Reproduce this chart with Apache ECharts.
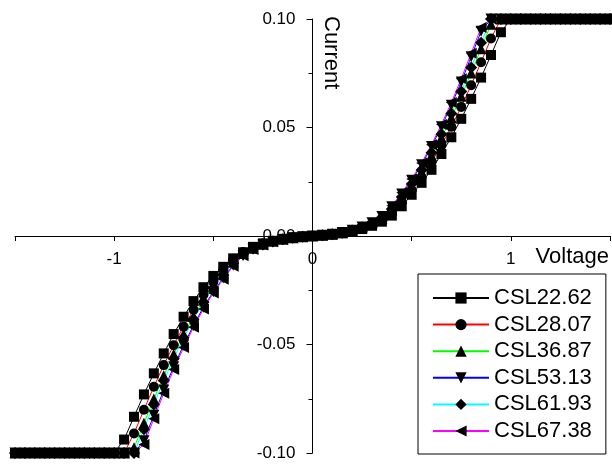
<!DOCTYPE html>
<html>
<head>
<meta charset="utf-8">
<script src="https://cdn.jsdelivr.net/npm/echarts@6/dist/echarts.min.js"></script>
<style>
html,body{margin:0;padding:0;background:#fff;}
#chart{width:612px;height:466px;}
</style>
</head>
<body>
<div id="chart"></div>
<script>
const voltage = [-1.5,-1.45,-1.4,-1.35,-1.3,-1.25,-1.2,-1.15,-1.1,-1.05,-1,-0.95,-0.9,-0.85,-0.8,-0.75,-0.7,-0.65,-0.6,-0.55,-0.5,-0.45,-0.4,-0.35,-0.3,-0.25,-0.2,-0.15,-0.1,-0.05,0,0.05,0.1,0.15,0.2,0.25,0.3,0.35,0.4,0.45,0.5,0.55,0.6,0.65,0.7,0.75,0.8,0.85,0.9,0.95,1,1.05,1.1,1.15,1.2,1.25,1.3,1.35,1.4,1.45,1.5];

const csl2262 = [-0.1,-0.1,-0.1,-0.1,-0.1,-0.1,-0.1,-0.1,-0.1,-0.1,-0.1,-0.0938,-0.0833,-0.0730,-0.0633,-0.0541,-0.0452,-0.0372,-0.0300,-0.0236,-0.0184,-0.0142,-0.0103,-0.0075,-0.0050,-0.0034,-0.0022,-0.0013,-0.0007,-0.0003,0,0.0003,0.0007,0.0013,0.0021,0.0032,0.0047,0.0066,0.0094,0.0137,0.0190,0.0245,0.0305,0.0378,0.0455,0.0540,0.0632,0.0730,0.0834,0.0939,0.1,0.1,0.1,0.1,0.1,0.1,0.1,0.1,0.1,0.1,0.1];

const csl2807 = [-0.1,-0.1,-0.1,-0.1,-0.1,-0.1,-0.1,-0.1,-0.1,-0.1,-0.1,-0.1,-0.0910,-0.0801,-0.0695,-0.0595,-0.0503,-0.0418,-0.0340,-0.0271,-0.0212,-0.0156,-0.0108,-0.0074,-0.0052,-0.0035,-0.0023,-0.0014,-0.0008,-0.0003,0,0.0003,0.0008,0.0014,0.0023,0.0035,0.0052,0.0074,0.0108,0.0156,0.0212,0.0271,0.0340,0.0418,0.0503,0.0595,0.0695,0.0801,0.0910,0.1,0.1,0.1,0.1,0.1,0.1,0.1,0.1,0.1,0.1,0.1,0.1];

const csl3687 = [-0.1,-0.1,-0.1,-0.1,-0.1,-0.1,-0.1,-0.1,-0.1,-0.1,-0.1,-0.1,-0.0976,-0.0863,-0.0751,-0.0644,-0.0545,-0.0453,-0.0371,-0.0295,-0.0231,-0.0173,-0.0120,-0.0081,-0.0056,-0.0038,-0.0024,-0.0015,-0.0008,-0.0003,0,0.0003,0.0008,0.0015,0.0024,0.0038,0.0056,0.0081,0.0120,0.0173,0.0231,0.0295,0.0371,0.0453,0.0545,0.0644,0.0751,0.0863,0.0976,0.1,0.1,0.1,0.1,0.1,0.1,0.1,0.1,0.1,0.1,0.1,0.1];

const csl5313 = [-0.1,-0.1,-0.1,-0.1,-0.1,-0.1,-0.1,-0.1,-0.1,-0.1,-0.1,-0.1,-0.1,-0.0943,-0.0826,-0.0710,-0.0603,-0.0503,-0.0412,-0.0328,-0.0257,-0.0194,-0.0135,-0.0090,-0.0061,-0.0041,-0.0026,-0.0016,-0.0008,-0.0003,0,0.0003,0.0008,0.0016,0.0026,0.0041,0.0061,0.0090,0.0135,0.0194,0.0257,0.0328,0.0412,0.0503,0.0603,0.0710,0.0826,0.0943,0.1,0.1,0.1,0.1,0.1,0.1,0.1,0.1,0.1,0.1,0.1,0.1,0.1];

const csl6193 = [-0.1,-0.1,-0.1,-0.1,-0.1,-0.1,-0.1,-0.1,-0.1,-0.1,-0.1,-0.1,-0.1,-0.0890,-0.0776,-0.0666,-0.0564,-0.0469,-0.0384,-0.0304,-0.0240,-0.0180,-0.0125,-0.0084,-0.0057,-0.0039,-0.0025,-0.0015,-0.0008,-0.0003,0,0.0003,0.0008,0.0015,0.0025,0.0039,0.0057,0.0084,0.0125,0.0180,0.0240,0.0304,0.0384,0.0469,0.0564,0.0666,0.0776,0.0890,0.1,0.1,0.1,0.1,0.1,0.1,0.1,0.1,0.1,0.1,0.1,0.1,0.1];

const csl6738 = [-0.1,-0.1,-0.1,-0.1,-0.1,-0.1,-0.1,-0.1,-0.1,-0.1,-0.1,-0.1,-0.1,-0.0961,-0.0842,-0.0725,-0.0615,-0.0514,-0.0421,-0.0336,-0.0263,-0.0199,-0.0139,-0.0091,-0.0062,-0.0042,-0.0027,-0.0016,-0.0009,-0.0003,0,0.0003,0.0009,0.0016,0.0027,0.0042,0.0062,0.0091,0.0139,0.0199,0.0263,0.0336,0.0421,0.0514,0.0615,0.0725,0.0842,0.0961,0.1,0.1,0.1,0.1,0.1,0.1,0.1,0.1,0.1,0.1,0.1,0.1,0.1];

const seriesNames = ['CSL22.62','CSL28.07','CSL36.87','CSL53.13','CSL61.93','CSL67.38'];
const seriesValues = [csl2262, csl2807, csl3687, csl5313, csl6193, csl6738];
const lineColors = ['#000000','#ff0000','#00ff00','#0000ff','#00ffff','#ff00ff'];
const symbols = ['rect','circle','triangle','triangle','diamond','triangle'];
const symbolRotates = [0,0,0,180,0,90];
const symbolSizes = [10,10,11,11,12,11];

const FONT = 'Liberation Sans, Arial, Helvetica, sans-serif';

// plot area (pixels)
const GL = 15, GR = 2, GT = 19, GB = 13;
const W = 612, H = 466;
const plotW = W - GL - GR, plotH = H - GT - GB;
// move axis lines to the zero of the other axis
const xZeroOffset = plotW * (0 - (-1.5)) / 3.0;     // distance from left edge to x=0
const yZeroOffset = plotH * (0 - (-0.1)) / 0.2;     // distance from bottom edge to y=0

const chart = echarts.init(document.getElementById('chart'), null, {renderer:'canvas'});

const series = seriesNames.map((name, k) => ({
  name: name,
  type: 'line',
  data: voltage.map((v, i) => [v, seriesValues[k][i]]),
  symbol: symbols[k],
  symbolRotate: symbolRotates[k],
  symbolSize: symbolSizes[k],
  showAllSymbol: true,
  clip: false,
  itemStyle: {color: '#000000', borderWidth: 0},
  lineStyle: {color: lineColors[k], width: 1},
  emphasis: {disabled: true},
  animation: false
}));

chart.setOption({
  backgroundColor: '#ffffff',
  animation: false,
  grid: {left: GL, right: GR, top: GT, bottom: GB, containLabel: false, outerBoundsMode: 'none'},
  xAxis: {
    type: 'value',
    min: -1.5, max: 1.5, interval: 0.5,
    position: 'bottom',
    offset: -yZeroOffset,
    axisLine: {onZero: false, lineStyle: {color: '#000', width: 1}},
    axisTick: {show: true, length: 5, lineStyle: {color: '#000'}},
    axisLabel: {
      margin: 15, color: '#000', fontSize: 17, fontFamily: FONT,
      showMinLabel: true, showMaxLabel: true,
      formatter: v => (Math.abs(v - Math.round(v)) < 1e-9 ? String(Math.round(v)) : '')
    },
    splitLine: {show: false}
  },
  yAxis: {
    type: 'value',
    min: -0.1, max: 0.1, interval: 0.05,
    position: 'left',
    offset: -xZeroOffset,
    axisLine: {onZero: false, lineStyle: {color: '#000', width: 1}},
    axisTick: {show: true, length: 6, lineStyle: {color: '#000'}},
    minorTick: {show: true, splitNumber: 2, length: 4, lineStyle: {color: '#000'}},
    axisLabel: {
      margin: 17, color: '#000', fontSize: 17, fontFamily: FONT,
      formatter: v => v.toFixed(2)
    },
    splitLine: {show: false}
  },
  legend: {
    orient: 'vertical',
    left: 418, top: 274,
    padding: [13, 14, 12, 14],
    itemGap: 4.6,
    itemWidth: 56,
    itemHeight: 14,
    borderColor: '#000', borderWidth: 1,
    backgroundColor: '#fff',
    textStyle: {fontSize: 22, color: '#000', fontFamily: FONT},
    data: seriesNames
  },
  graphic: [
    {type: 'text', x: 331, y: 16, rotation: -Math.PI/2,
     style: {text: 'Current', font: '22px ' + FONT, fill: '#000', textAlign: 'left', textVerticalAlign: 'middle', align: 'left', verticalAlign: 'middle'}},
    {type: 'text', x: 609, y: 257,
     style: {text: 'Voltage', font: '22px ' + FONT, fill: '#000', textAlign: 'right', textVerticalAlign: 'middle', align: 'right', verticalAlign: 'middle'}}
  ],
  series: series
});
</script>
</body>
</html>
